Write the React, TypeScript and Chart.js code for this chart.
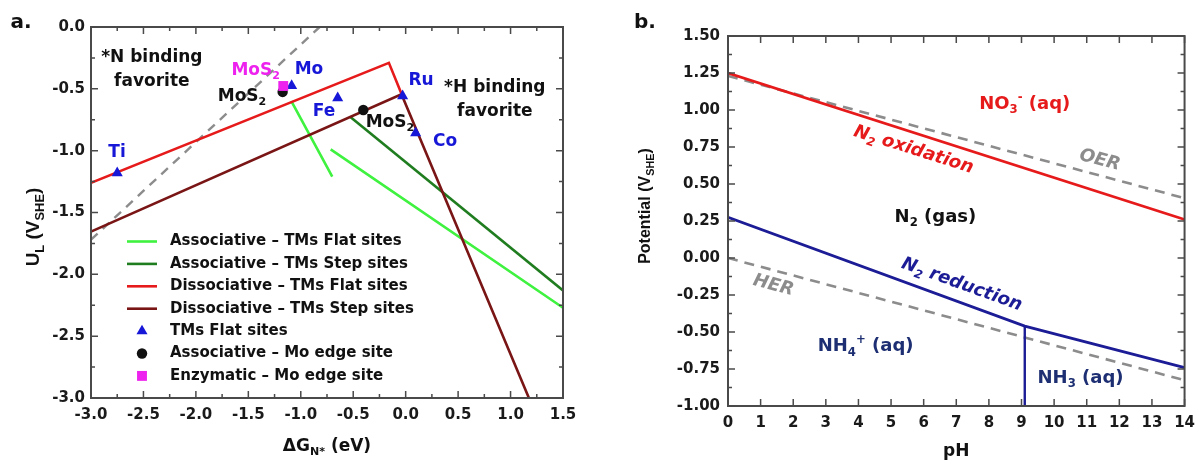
import React, { useEffect, useRef } from 'react';
import { Chart, registerables } from 'chart.js';

Chart.register(...registerables);

const WIDE = '"DejaVu Sans", "Liberation Sans", Arial, sans-serif';
const NARROW = '"Liberation Sans", Arial, sans-serif';

// ---------------- Panel a data ----------------
const aXRange = [-3, 1.5];
const aYRange = [-3, 0];

const dissocFlatX = [-3, -0.16, -0.04];
const dissocFlatY = [-1.26, -0.29, -0.54];
const dissocStepX = [-3, -0.04, 1.175];
const dissocStepY = [-1.655, -0.544, -3.0];
const assocStepX = [-0.53, 1.5];
const assocStepY = [-0.725, -2.13];
const assocFlatX = [-1.09, -0.7, -0.7, -0.715, 1.5];
const assocFlatY = [-0.6, -1.21, null, -0.99, -2.27];
const limitX = [-3, -0.82];
const limitY = [-1.72, 0];
const tmFlatX = [-2.75, -1.087, -0.648, -0.029, 0.095];
const tmFlatY = [-1.18, -0.475, -0.574, -0.558, -0.857];
const moEdgeX = [-1.173, -0.404];
const moEdgeY = [-0.525, -0.671];
const enzX = [-1.167];
const enzY = [-0.477];

// ---------------- Panel b data ----------------
const bXRange = [0, 14];
const bYRange = [-1, 1.5];

const oxidPH = [0, 14];
const oxidU = [1.25, 0.26];
const reducPH = [0, 9.1, 14];
const reducU = [0.275, -0.46, -0.74];
const nh3PH = [9.1, 9.1];
const nh3U = [-0.46, -1.0];
const oerPH = [0, 14];
const oerU = [1.23, 0.404];
const herPH = [0, 14];
const herU = [0, -0.826];

// ---------------- colours ----------------
const C_LGREEN = '#3ff23f';
const C_DGREEN = '#1f7d1f';
const C_RED = '#e61a1a';
const C_DRED = '#7a1515';
const C_BLUE = '#1717d8';
const C_BLACK = '#111111';
const C_MAG = '#ee22ee';
const C_GRAY = '#8c8c8c';
const C_NAVY = '#1c1c96';
const C_NAVY2 = '#1d2f72';
const C_AXIS = '#4a4a4a';
const C_TICKTXT = '#1a1a1a';

function pts(xs: number[], ys: (number | null)[]) {
  return xs.map((x, i) => ({ x, y: ys[i] }));
}

// ---------------- rich text ----------------
type Seg = { t: string; s?: 'sub' | 'sup' };
function parseRich(s: string): Seg[] {
  const out: Seg[] = [];
  let buf = '';
  let i = 0;
  while (i < s.length) {
    const ch = s[i];
    if (ch === '_' || ch === '^') {
      if (buf) {
        out.push({ t: buf });
        buf = '';
      }
      let content = '';
      if (s[i + 1] === '{') {
        const j = s.indexOf('}', i + 2);
        content = s.slice(i + 2, j);
        i = j + 1;
      } else {
        content = s[i + 1];
        i += 2;
      }
      out.push({ t: content, s: ch === '_' ? 'sub' : 'sup' });
    } else {
      buf += ch;
      i++;
    }
  }
  if (buf) out.push({ t: buf });
  return out;
}

interface RichOpts {
  size: number;
  color: string;
  italic?: boolean;
  family?: string;
  angle?: number;
  subScale?: number;
}
function drawRich(ctx: CanvasRenderingContext2D, text: string, x: number, y: number, o: RichOpts) {
  const segs = parseRich(text);
  const fam = o.family || WIDE;
  const ss = o.subScale || 0.65;
  const font = (sz: number) => `${o.italic ? 'italic ' : ''}bold ${sz}px ${fam}`;
  ctx.save();
  ctx.translate(x, y);
  ctx.rotate(((o.angle || 0) * Math.PI) / 180);
  ctx.textBaseline = 'middle';
  ctx.textAlign = 'left';
  ctx.fillStyle = o.color;
  const widths = segs.map((sg) => {
    ctx.font = font(sg.s ? o.size * ss : o.size);
    return ctx.measureText(sg.t).width;
  });
  const total = widths.reduce((a, b) => a + b, 0);
  let cx = -total / 2;
  segs.forEach((sg, k) => {
    ctx.font = font(sg.s ? o.size * ss : o.size);
    const dy = sg.s === 'sub' ? o.size * 0.32 : sg.s === 'sup' ? -o.size * 0.36 : 0;
    ctx.fillText(sg.t, cx, dy);
    cx += widths[k];
  });
  ctx.restore();
}

// ---------------- annotations ----------------
interface Ann {
  text: string;
  x: number;
  y: number;
  color: string;
  size: number;
  italic?: boolean;
  angle?: number;
}

const annotationsA: Ann[] = [
  { text: '*N binding', x: -2.42, y: -0.25, color: C_BLACK, size: 17 },
  { text: 'favorite', x: -2.42, y: -0.445, color: C_BLACK, size: 17 },
  { text: '*H binding', x: 0.85, y: -0.49, color: C_BLACK, size: 17 },
  { text: 'favorite', x: 0.85, y: -0.687, color: C_BLACK, size: 17 },
  { text: 'MoS_2', x: -1.43, y: -0.356, color: C_MAG, size: 17 },
  { text: 'Mo', x: -0.922, y: -0.348, color: C_BLUE, size: 17 },
  { text: 'MoS_2', x: -1.56, y: -0.566, color: C_BLACK, size: 17 },
  { text: 'Fe', x: -0.779, y: -0.687, color: C_BLUE, size: 17 },
  { text: 'MoS_2', x: -0.15, y: -0.776, color: C_BLACK, size: 17 },
  { text: 'Ru', x: 0.146, y: -0.437, color: C_BLUE, size: 17 },
  { text: 'Co', x: 0.375, y: -0.93, color: C_BLUE, size: 17 },
  { text: 'Ti', x: -2.752, y: -1.019, color: C_BLUE, size: 17 },
];

const annotationsB: Ann[] = [
  { text: 'NO_3^- (aq)', x: 9.1, y: 1.04, color: C_RED, size: 18 },
  { text: 'N_2 oxidation', x: 5.69, y: 0.73, color: C_RED, size: 18, italic: true, angle: 17.5 },
  { text: 'OER', x: 11.4, y: 0.66, color: C_GRAY, size: 18, italic: true, angle: 14.7 },
  { text: 'N_2 (gas)', x: 6.36, y: 0.277, color: C_BLACK, size: 18 },
  { text: 'N_2 reduction', x: 7.17, y: -0.18, color: C_NAVY, size: 18, italic: true, angle: 19.8 },
  { text: 'HER', x: 1.39, y: -0.186, color: C_GRAY, size: 18, italic: true, angle: 14.7 },
  { text: 'NH_4^+ (aq)', x: 4.22, y: -0.6, color: C_NAVY2, size: 18 },
  { text: 'NH_3 (aq)', x: 10.81, y: -0.811, color: C_NAVY2, size: 18 },
];

// legend of panel a (label -> dataset index)
const legendA = [
  { label: 'Associative – TMs Flat sites', ds: 6 },
  { label: 'Associative – TMs Step sites', ds: 5 },
  { label: 'Dissociative – TMs Flat sites', ds: 3 },
  { label: 'Dissociative – TMs Step sites', ds: 4 },
  { label: 'TMs Flat sites', ds: 1 },
  { label: 'Associative – Mo edge site', ds: 2 },
  { label: 'Enzymatic – Mo edge site', ds: 0 },
];

interface DecorSpec {
  id: string;
  xMajor: number;
  xMinor: number;
  yMajor: number;
  yMinor: number;
  xTitle: string;
  yTitle: string;
  xTitleSize: number;
  yTitleSize: number;
  yTitleOffset: number;
  yTitleY: number;
  xTitleOffset: number;
  panel: string;
  panelX: number;
  anns: Ann[];
  legend?: { label: string; ds: number }[];
}

function drawMarker(ctx: CanvasRenderingContext2D, style: string, x: number, y: number, r: number, color: string) {
  ctx.save();
  ctx.fillStyle = color;
  ctx.beginPath();
  if (style === 'triangle') {
    ctx.moveTo(x, y - r);
    ctx.lineTo(x + r * 0.866, y + r * 0.5);
    ctx.lineTo(x - r * 0.866, y + r * 0.5);
    ctx.closePath();
  } else if (style === 'rect') {
    const s = r * Math.SQRT1_2;
    ctx.rect(x - s, y - s, 2 * s, 2 * s);
  } else {
    ctx.arc(x, y, r, 0, Math.PI * 2);
  }
  ctx.fill();
  ctx.restore();
}

function makeDecor(spec: DecorSpec) {
  return {
    id: spec.id,
    afterDraw(chart: any) {
      const ctx: CanvasRenderingContext2D = chart.ctx;
      const { left, right, top, bottom } = chart.chartArea;
      const xs = chart.scales.x;
      const ys = chart.scales.y;

      // annotations
      spec.anns.forEach((a) => {
        drawRich(ctx, a.text, xs.getPixelForValue(a.x), ys.getPixelForValue(a.y), {
          size: a.size,
          color: a.color,
          italic: a.italic,
          angle: a.angle,
        });
      });

      // legend
      if (spec.legend) {
        spec.legend.forEach((it, k) => {
          const ds = chart.data.datasets[it.ds];
          const ly = top + 214.5 + k * 22.4;
          const lx0 = left + 36;
          if (ds.showLine) {
            ctx.save();
            ctx.strokeStyle = ds.borderColor;
            ctx.lineWidth = ds.borderWidth;
            ctx.beginPath();
            ctx.moveTo(lx0, ly);
            ctx.lineTo(lx0 + 30, ly);
            ctx.stroke();
            ctx.restore();
          } else {
            drawMarker(ctx, ds.pointStyle, lx0 + 15, ly, ds.pointRadius, ds.backgroundColor);
          }
          ctx.save();
          ctx.fillStyle = C_BLACK;
          ctx.font = `bold 15px ${WIDE}`;
          ctx.textBaseline = 'middle';
          ctx.textAlign = 'left';
          ctx.fillText(it.label, lx0 + 43, ly);
          ctx.restore();
        });
      }

      // frame
      ctx.save();
      ctx.strokeStyle = C_AXIS;
      ctx.lineWidth = 2;
      ctx.strokeRect(left, top, right - left, bottom - top);

      // inner ticks
      ctx.lineWidth = 1.5;
      ctx.beginPath();
      const xmin = xs.min, xmax = xs.max, ymin = ys.min, ymax = ys.max;
      const nx = Math.round((xmax - xmin) / spec.xMinor);
      for (let i = 0; i <= nx; i++) {
        const v = xmin + i * spec.xMinor;
        const q = v / spec.xMajor;
        const major = Math.abs(q - Math.round(q)) < 1e-6;
        const len = major ? 7 : 4;
        const px = xs.getPixelForValue(v);
        ctx.moveTo(px, bottom);
        ctx.lineTo(px, bottom - len);
        ctx.moveTo(px, top);
        ctx.lineTo(px, top + len);
      }
      const ny = Math.round((ymax - ymin) / spec.yMinor);
      for (let i = 0; i <= ny; i++) {
        const v = ymin + i * spec.yMinor;
        const q = v / spec.yMajor;
        const major = Math.abs(q - Math.round(q)) < 1e-6;
        const len = major ? 7 : 4;
        const py = ys.getPixelForValue(v);
        ctx.moveTo(left, py);
        ctx.lineTo(left + len, py);
        ctx.moveTo(right, py);
        ctx.lineTo(right - len, py);
      }
      ctx.stroke();
      ctx.restore();

      // axis titles
      drawRich(ctx, spec.xTitle, (left + right) / 2, bottom + spec.xTitleOffset, {
        size: spec.xTitleSize,
        color: C_BLACK,
      });
      drawRich(ctx, spec.yTitle, left - spec.yTitleOffset, spec.yTitleY, {
        size: spec.yTitleSize,
        color: C_BLACK,
        angle: -90,
        family: NARROW,
        subScale: 0.68,
      });

      // panel letter
      ctx.save();
      ctx.fillStyle = C_BLACK;
      ctx.font = `bold 20px ${WIDE}`;
      ctx.textAlign = 'center';
      ctx.textBaseline = 'middle';
      ctx.fillText(spec.panel, spec.panelX, 23);
      ctx.restore();
    },
  };
}

const tickFont = { family: WIDE, weight: 'bold' as const, size: 15 };

function lineDs(label: string, data: any[], color: string, width: number, dash: number[] = []) {
  return {
    label,
    data,
    showLine: true,
    borderColor: color,
    backgroundColor: color,
    borderWidth: width,
    borderDash: dash,
    pointRadius: 0,
    pointHoverRadius: 0,
    fill: false,
    spanGaps: false,
    tension: 0,
  };
}

function pointDs(label: string, data: any[], color: string, style: string, r: number) {
  return {
    label,
    data,
    showLine: false,
    pointStyle: style,
    pointRadius: r,
    pointHoverRadius: r,
    backgroundColor: color,
    borderColor: color,
    borderWidth: 0,
  };
}

function configA(): any {
  return {
    type: 'scatter',
    data: {
      datasets: [
        pointDs('Enzymatic – Mo edge site', pts(enzX, enzY), C_MAG, 'rect', 7),
        pointDs('TMs Flat sites', pts(tmFlatX, tmFlatY), C_BLUE, 'triangle', 6.4),
        pointDs('Associative – Mo edge site', pts(moEdgeX, moEdgeY), C_BLACK, 'circle', 5.2),
        lineDs('Dissociative – TMs Flat sites', pts(dissocFlatX, dissocFlatY), C_RED, 2.6),
        lineDs('Dissociative – TMs Step sites', pts(dissocStepX, dissocStepY), C_DRED, 2.6),
        lineDs('Associative – TMs Step sites', pts(assocStepX, assocStepY), C_DGREEN, 2.6),
        lineDs('Associative – TMs Flat sites', pts(assocFlatX, assocFlatY), C_LGREEN, 2.6),
        lineDs('limit', pts(limitX, limitY), C_GRAY, 2.4, [9, 7]),
      ],
    },
    options: {
      responsive: false,
      animation: false,
      events: [],
      layout: { padding: { left: 0, top: 27, right: 37, bottom: 0 } },
      plugins: { legend: { display: false }, tooltip: { enabled: false } },
      scales: {
        x: {
          type: 'linear',
          min: aXRange[0],
          max: aXRange[1],
          grid: { display: false, drawTicks: false },
          border: { display: false },
          ticks: {
            stepSize: 0.5,
            font: tickFont,
            color: C_TICKTXT,
            padding: 8,
            maxRotation: 0,
            autoSkip: false,
            callback: (v: any) => Number(v).toFixed(1),
          },
          afterFit: (s: any) => {
            s.height = 64;
          },
        },
        y: {
          type: 'linear',
          min: aYRange[0],
          max: aYRange[1],
          grid: { display: false, drawTicks: false },
          border: { display: false },
          ticks: {
            stepSize: 0.5,
            font: tickFont,
            color: C_TICKTXT,
            padding: 6,
            autoSkip: false,
            callback: (v: any) => Number(v).toFixed(1),
          },
          afterFit: (s: any) => {
            s.width = 91;
          },
        },
      },
    },
    plugins: [
      makeDecor({
        id: 'decorA',
        xMajor: 0.5,
        xMinor: 0.25,
        yMajor: 0.5,
        yMinor: 0.25,
        xTitle: 'ΔG_{N*} (eV)',
        yTitle: 'U_L (V_{SHE})',
        xTitleSize: 17,
        yTitleSize: 19,
        yTitleOffset: 57,
        yTitleY: 227,
        xTitleOffset: 49,
        panel: 'a.',
        panelX: 21,
        anns: annotationsA,
        legend: legendA,
      }),
    ],
  };
}

function configB(): any {
  return {
    type: 'scatter',
    data: {
      datasets: [
        lineDs('N2 oxidation', pts(oxidPH, oxidU), C_RED, 2.8),
        lineDs('N2 reduction', pts(reducPH, reducU), C_NAVY, 2.8),
        lineDs('NH4/NH3', pts(nh3PH, nh3U), C_NAVY, 2.4),
        lineDs('OER', pts(oerPH, oerU), C_GRAY, 2.6, [10, 7]),
        lineDs('HER', pts(herPH, herU), C_GRAY, 2.6, [10, 7]),
      ],
    },
    options: {
      responsive: false,
      animation: false,
      events: [],
      layout: { padding: { left: 0, top: 36, right: 10, bottom: 0 } },
      plugins: { legend: { display: false }, tooltip: { enabled: false } },
      scales: {
        x: {
          type: 'linear',
          min: bXRange[0],
          max: bXRange[1],
          grid: { display: false, drawTicks: false },
          border: { display: false },
          ticks: {
            stepSize: 1,
            font: tickFont,
            color: C_TICKTXT,
            padding: 8,
            maxRotation: 0,
            autoSkip: false,
            callback: (v: any) => String(Math.round(Number(v))),
          },
          afterFit: (s: any) => {
            s.height = 56;
          },
        },
        y: {
          type: 'linear',
          min: bYRange[0],
          max: bYRange[1],
          grid: { display: false, drawTicks: false },
          border: { display: false },
          ticks: {
            stepSize: 0.25,
            font: tickFont,
            color: C_TICKTXT,
            padding: 8,
            autoSkip: false,
            callback: (v: any) => Number(v).toFixed(2),
          },
          afterFit: (s: any) => {
            s.width = 128;
          },
        },
      },
    },
    plugins: [
      makeDecor({
        id: 'decorB',
        xMajor: 1,
        xMinor: 1,
        yMajor: 0.25,
        yMinor: 0.125,
        xTitle: 'pH',
        yTitle: 'Potential (V_{SHE})',
        xTitleSize: 17,
        yTitleSize: 16,
        yTitleOffset: 82,
        yTitleY: 206,
        xTitleOffset: 46,
        panel: 'b.',
        panelX: 45,
        anns: annotationsB,
      }),
    ],
  };
}

export default function App() {
  const leftRef = useRef<HTMLCanvasElement>(null);
  const rightRef = useRef<HTMLCanvasElement>(null);

  useEffect(() => {
    const c1 = new Chart(leftRef.current as HTMLCanvasElement, configA());
    const c2 = new Chart(rightRef.current as HTMLCanvasElement, configB());
    return () => {
      c1.destroy();
      c2.destroy();
    };
  }, []);

  return (
    <div
      style={{
        position: 'absolute',
        left: 0,
        top: 0,
        width: 1203,
        height: 462,
        background: '#ffffff',
        overflow: 'hidden',
      }}
    >
      <canvas
        ref={leftRef}
        width={600}
        height={462}
        style={{ position: 'absolute', left: 0, top: 0, width: 600, height: 462 }}
      />
      <canvas
        ref={rightRef}
        width={603}
        height={462}
        style={{ position: 'absolute', left: 600, top: 0, width: 603, height: 462 }}
      />
    </div>
  );
}
